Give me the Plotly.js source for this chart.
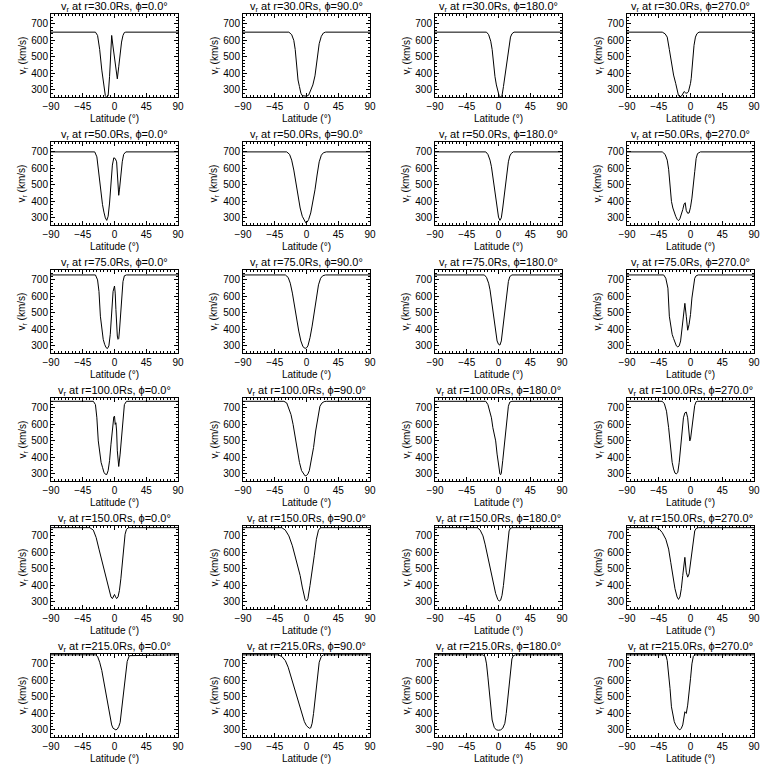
<!DOCTYPE html>
<html>
<head>
<meta charset="utf-8">
<script src="https://cdn.plot.ly/plotly-3.0.1.min.js"></script>
<style>html,body{margin:0;padding:0;background:#fff;}#chart{width:768px;height:768px;}</style>
</head>
<body>
<div id="chart"></div>
<script>
// ---- labels ----
const radii = [30.0, 50.0, 75.0, 100.0, 150.0, 215.0];
const phis = [0.0, 90.0, 180.0, 270.0];
const latTicks = [-90, -45, 0, 45, 90];
const vTicks = [300, 400, 500, 600, 700];
const vRange = [257, 760];
const latRange = [-90, 90];

// ---- r = 30 Rs ----
const lat_r30_p0 = [-90,-27,-24,-21,-18,-15,-13,-11,-9,-7,-5.5,-4,-2,0,2,4,6,8,10,12,14,16,90];
const v_r30_p0   = [650,650,630,545,420,320,265,255,265,380,560,630,560,490,420,367,440,520,590,630,648,650,650];
const lat_r30_p90 = [-90,-25,-21,-18,-16,-14,-12,-10,-8,-6,-3,0,3,6,9,12,15,18,21,24,27,90];
const v_r30_p90   = [650,650,635,600,545,440,360,320,280,265,262,262,268,295,330,385,480,580,625,645,650,650];
const lat_r30_p180 = [-90,-17,-14,-11,-9,-7,-5,-3,-1,1,3,5,7,9,11,13,15,17,19,22,90];
const v_r30_p180   = [650,650,635,595,545,440,380,330,290,262,258,265,320,380,460,530,580,620,640,650,650];
const lat_r30_p270 = [-90,-40,-36,-33,-30,-27,-24,-21,-19,-17,-15,-13,-11,-9,-7,-5,-3,-1,0,1,2,3,4,5,7,9,12,90];
const v_r30_p270   = [650,650,640,620,545,460,390,340,300,265,258,262,275,290,282,280,288,315,340,370,420,470,530,570,620,640,650,650];

// ---- r = 50 Rs ----
const lat_r50_p0 = [-90,-28,-25,-23,-21,-19,-17,-15,-13,-11,-9,-7,-5,-3,-1,1,3,4,5,6,7,9,11,13,16,90];
const v_r50_p0   = [700,700,670,595,510,440,380,335,300,285,310,390,520,620,664,660,640,580,480,437,470,570,640,685,700,700];
const lat_r50_p90 = [-90,-28,-24,-21,-18,-15,-12,-9,-6,-3,-1,1,3,6,9,12,15,18,21,24,28,90];
const v_r50_p90   = [700,700,685,650,590,510,430,360,310,280,270,275,290,330,390,470,560,640,680,695,700,700];
const lat_r50_p180 = [-90,-18,-15,-12,-10,-8,-6,-4,-2,0,2,4,6,8,10,12,14,16,18,21,90];
const v_r50_p180   = [700,700,685,650,610,550,480,410,350,305,285,300,360,440,520,590,640,675,690,700,700];
const lat_r50_p270 = [-90,-40,-36,-33,-31,-29,-27,-25,-23,-21,-19,-17,-15,-13,-11,-9,-7.5,-6,-4,-2,0,2,4,6,8,10,14,90];
const v_r50_p270   = [700,700,685,650,595,500,400,360,330,310,292,283,295,320,350,385,392,345,328,330,365,420,485,580,660,690,700,700];

// ---- r = 75 Rs ----
const lat_r75_p0 = [-90,-27,-24,-22,-20,-18,-16,-14,-12,-10,-8,-6,-4,-2,0,1,2,3,4,5,6,7,8,10,12,14,17,90];
const v_r75_p0   = [730,730,700,630,480,385,340,310,290,284,300,370,520,630,663,620,520,420,360,340,345,390,450,590,690,725,730,730];
const lat_r75_p90 = [-90,-30,-26,-23,-20,-17,-14,-11,-8,-5,-2,0,2,5,8,11,14,17,20,23,27,90];
const v_r75_p90   = [730,730,715,680,620,540,460,390,330,295,285,288,300,350,420,510,600,670,710,725,730,730];
const lat_r75_p180 = [-90,-20,-17,-14,-12,-10,-8,-6,-4,-2,0,2,4,6,8,10,12,14,16,19,90];
const v_r75_p180   = [730,730,715,680,640,580,510,440,380,330,310,305,330,400,460,530,620,690,720,730,730];
const lat_r75_p270 = [-90,-38,-35,-32,-30,-28,-26,-24,-22,-20,-18,-16,-14,-12,-10,-8,-6,-4,-2,0,2,4,6,8,11,90];
const v_r75_p270   = [730,730,710,650,480,420,370,345,320,300,294,300,330,400,500,558,480,395,430,490,590,660,710,725,730,730];

// ---- r = 100 Rs ----
const lat_r100_p0 = [-90,-30,-27,-25,-23,-21,-19,-17,-15,-13,-11,-9,-7,-5,-3,-1,0,1,2,3,4,6,8,10,12,14,17,90];
const v_r100_p0   = [740,740,720,640,500,420,370,340,310,298,296,320,380,480,580,645,650,600,610,560,440,345,420,540,660,720,740,740];
const lat_r100_p90 = [-90,-32,-28,-25,-22,-19,-16,-13,-10,-7,-4,-2,0,2,4,7,10,13,16,19,22,25,28,90];
const v_r100_p90   = [740,740,730,700,660,600,520,440,370,320,295,288,290,300,320,380,460,560,650,710,730,738,740,740];
const lat_r100_p180 = [-90,-18,-15,-12,-10,-8,-6,-4,-2,0,2,3,4,6,8,10,12,14,16,19,90];
const v_r100_p180   = [740,740,720,680,640,580,540,500,420,340,300,295,305,380,470,560,650,710,735,740,740];
const lat_r100_p270 = [-90,-40,-37,-34,-31,-28,-26,-24,-22,-20,-18,-16,-14,-12,-10,-8,-6,-4,-3,-2,-1,0,2,4,6,8,10,90];
const v_r100_p270   = [740,740,725,680,580,440,370,330,305,300,310,370,470,580,640,670,675,640,590,520,500,510,575,660,715,738,740,740];

// ---- r = 150 Rs ----
const lat_r150_p0 = [-90,-35,-30,-26,-22,-18,-14,-10,-7,-5,-3,-1,0,1,3,5,7,9,11,13,15,17,20,90];
const v_r150_p0   = [750,750,735,690,620,550,470,400,350,330,320,335,345,335,320,330,370,440,540,640,710,740,750,750];
const lat_r150_p90 = [-90,-35,-30,-25,-20,-16,-12,-9,-6,-4,-2,0,2,5,8,11,14,17,20,23,90];
const v_r150_p90   = [750,750,735,700,640,580,520,460,390,340,315,305,320,400,480,580,680,735,750,750,750];
const lat_r150_p180 = [-90,-30,-26,-22,-19,-16,-13,-10,-7,-4,-1,1,3,5,7,9,11,13,15,17,20,90];
const v_r150_p180   = [750,750,735,700,650,590,530,470,410,350,315,305,310,340,400,480,580,670,730,748,750,750];
const lat_r150_p270 = [-90,-48,-44,-40,-35,-31,-28,-25,-22,-19,-17,-15,-13,-11,-9,-8,-6,-4,-2,0,2,4,6,8,11,90];
const v_r150_p270   = [750,750,740,720,680,620,540,450,380,330,315,330,380,460,560,570,480,450,470,540,620,690,730,745,750,750];

// ---- r = 215 Rs ----
const lat_r215_p0 = [-90,-27,-24,-21,-18,-15,-12,-10,-8,-6,-4,-2,0,2,4,6,8,10,12,14,16,18,21,90];
const v_r215_p0   = [755,755,745,710,660,585,520,480,425,365,330,310,303,300,305,320,345,420,500,580,660,715,750,755];
const lat_r215_p90 = [-90,-40,-35,-30,-26,-22,-18,-14,-10,-6,-3,0,2,4,6,8,10,12,14,16,18,21,24,90];
const v_r215_p90   = [755,755,745,720,680,620,560,500,440,390,350,325,315,310,312,340,400,480,570,650,710,745,755,755];
const lat_r215_p180 = [-90,-22,-19,-17,-15,-13,-11,-9,-6,-3,0,3,6,9,11,13,15,17,19,21,24,90];
const v_r215_p180   = [755,755,745,700,620,520,430,360,315,300,298,300,310,340,400,490,590,680,730,750,755,755];
const lat_r215_p270 = [-90,-35,-33,-31,-29,-27,-25,-23,-21,-19,-17,-15,-13,-11,-9,-8,-7,-6,-4,-2,0,2,4,6,90];
const v_r215_p270   = [755,755,720,650,550,440,380,350,330,315,305,300,310,330,380,410,405,400,450,520,610,700,745,755,755];

const panels = [
  [lat_r30_p0, v_r30_p0], [lat_r30_p90, v_r30_p90], [lat_r30_p180, v_r30_p180], [lat_r30_p270, v_r30_p270],
  [lat_r50_p0, v_r50_p0], [lat_r50_p90, v_r50_p90], [lat_r50_p180, v_r50_p180], [lat_r50_p270, v_r50_p270],
  [lat_r75_p0, v_r75_p0], [lat_r75_p90, v_r75_p90], [lat_r75_p180, v_r75_p180], [lat_r75_p270, v_r75_p270],
  [lat_r100_p0, v_r100_p0], [lat_r100_p90, v_r100_p90], [lat_r100_p180, v_r100_p180], [lat_r100_p270, v_r100_p270],
  [lat_r150_p0, v_r150_p0], [lat_r150_p90, v_r150_p90], [lat_r150_p180, v_r150_p180], [lat_r150_p270, v_r150_p270],
  [lat_r215_p0, v_r215_p0], [lat_r215_p90, v_r215_p90], [lat_r215_p180, v_r215_p180], [lat_r215_p270, v_r215_p270]
];

// ---- layout geometry (pixels) ----
const W = 768, H = 768, cellW = 192, cellH = 128;
const plotL = 51, plotR = 178, plotT = 14, plotB = 97;
const FONT = 'Liberation Sans, Arial, sans-serif';

const traces = [];
const layout = {
  width: W, height: H,
  margin: {l: 0, r: 0, t: 0, b: 0, pad: 0},
  paper_bgcolor: '#ffffff', plot_bgcolor: '#ffffff',
  showlegend: false,
  font: {family: FONT, size: 10, color: '#000'},
  annotations: []
};

for (let r = 0; r < radii.length; r++) {
  for (let c = 0; c < phis.length; c++) {
    const k = r * phis.length + c;
    const n = k + 1;
    const xa = 'x' + (n === 1 ? '' : n), ya = 'y' + (n === 1 ? '' : n);
    const xName = 'xaxis' + (n === 1 ? '' : n), yName = 'yaxis' + (n === 1 ? '' : n);
    const x0 = cellW * c + plotL, x1 = cellW * c + plotR;
    const y0 = cellH * r + plotT, y1 = cellH * r + plotB;
    traces.push({
      x: panels[k][0], y: panels[k][1], xaxis: xa, yaxis: ya,
      type: 'scatter', mode: 'lines', line: {color: '#000', width: 1},
      hoverinfo: 'skip', cliponaxis: true
    });
    layout[xName] = {
      domain: [x0 / W, x1 / W], anchor: ya, range: latRange,
      tickmode: 'array', tickvals: latTicks, ticks: 'inside', ticklen: 4, tickcolor: '#000',
      minor: {dtick: 5, ticklen: 2, ticks: 'inside', tickcolor: '#000'},
      showline: true, linecolor: '#000', linewidth: 1, mirror: 'ticks',
      showgrid: false, zeroline: false, fixedrange: true,
      tickfont: {family: FONT, size: 10, color: '#000'}
    };
    layout[yName] = {
      domain: [1 - y1 / H, 1 - y0 / H], anchor: xa, range: vRange,
      tickmode: 'array', tickvals: vTicks, ticks: 'inside', ticklen: 4, tickcolor: '#000',
      minor: {dtick: 20, ticklen: 2, ticks: 'inside', tickcolor: '#000'},
      showline: true, linecolor: '#000', linewidth: 1, mirror: 'ticks',
      showgrid: false, zeroline: false, fixedrange: true,
      tickfont: {family: FONT, size: 10, color: '#000'}
    };
    const cx = (x0 + x1) / 2;
    layout.annotations.push({
      text: 'v<sub>r</sub> at r=' + radii[r].toFixed(1) + 'Rs, \u03d5=' + phis[c].toFixed(1) + '\u00b0',
      xref: 'paper', yref: 'paper', x: cx / W, y: 1 - (cellH * r + 7) / H,
      xanchor: 'center', yanchor: 'middle', showarrow: false,
      font: {family: FONT, size: 11, color: '#000'}
    });
    layout.annotations.push({
      text: 'Latitude (\u00b0)',
      xref: 'paper', yref: 'paper', x: cx / W, y: 1 - (cellH * r + 118) / H,
      xanchor: 'center', yanchor: 'middle', showarrow: false,
      font: {family: FONT, size: 10, color: '#000'}
    });
    layout.annotations.push({
      text: 'v<sub>r</sub> (km/s)',
      xref: 'paper', yref: 'paper', x: (cellW * c + 22) / W, y: 1 - ((y0 + y1) / 2) / H,
      xanchor: 'center', yanchor: 'middle', showarrow: false, textangle: -90,
      font: {family: FONT, size: 10, color: '#000'}
    });
  }
}

Plotly.newPlot('chart', traces, layout, {staticPlot: true, displayModeBar: false});
</script>
</body>
</html>
